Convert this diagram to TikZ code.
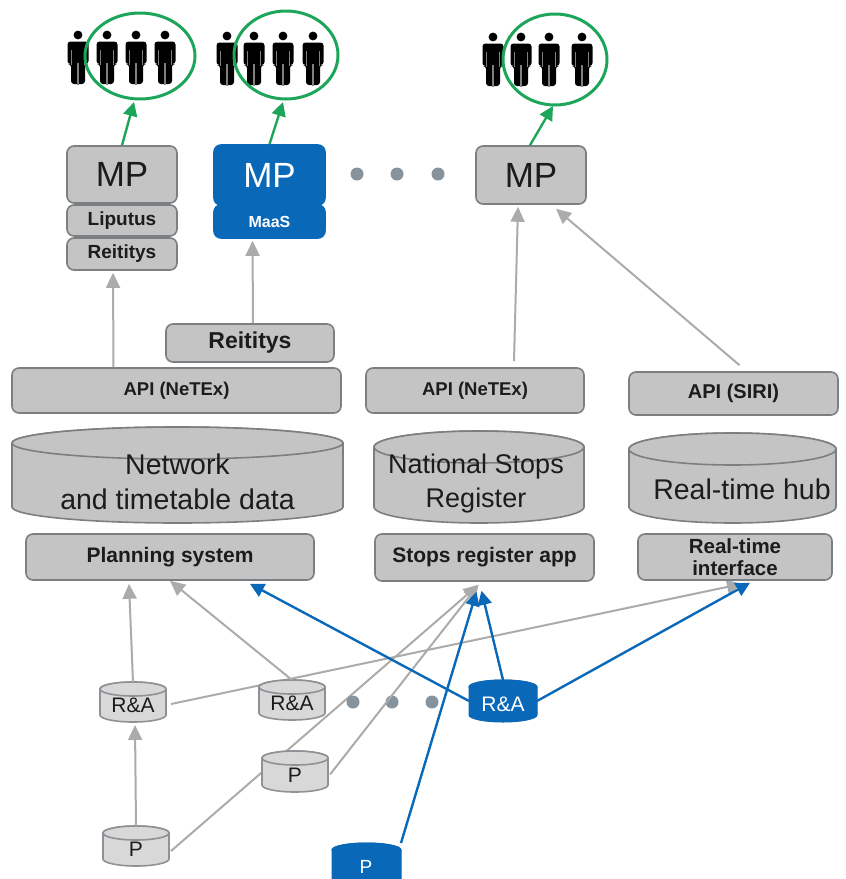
\documentclass[tikz,border=0pt]{standalone}
\usepackage{fontspec}
\setmainfont{Liberation Sans}
\usetikzlibrary{arrows.meta,backgrounds,calc}
\definecolor{boxfill}{HTML}{C4C4C4}
\definecolor{boxline}{HTML}{7C7F82}
\definecolor{smallfill}{HTML}{D8D8D8}
\definecolor{smallline}{HTML}{8E9296}
\definecolor{conblue}{HTML}{0A68B8}
\definecolor{congray}{HTML}{ABABAB}
\definecolor{congreen}{HTML}{1DA65A}
\definecolor{dotgray}{HTML}{87939C}
\definecolor{ink}{HTML}{1C1C1C}
\newcommand{\fs}[1]{\fontsize{#1}{#1}\selectfont}
\tikzset{
  x=1pt,y=-1pt,
  box/.style={draw=boxline,fill=boxfill,line width=1.6pt,rounded corners=7pt,inner sep=0pt,text=ink,align=center,font=\bfseries\fs{19}},
  bluebox/.style={box,draw=conblue,fill=conblue,text=white},
  cylbig/.style={cyldraw/.style={draw=boxline,fill=boxfill,line width=1.6pt}},
  cylsmall/.style={cyldraw/.style={draw=smallline,fill=smallfill,line width=1.6pt}},
  cylblue/.style={cyldraw/.style={draw=conblue,fill=conblue,line width=1pt}},
  cyldraw/.style={},
  anchorbox/.style={inner sep=0pt,outer sep=0pt},
  bigtext/.style={text=ink,align=center,inner sep=0pt,font=\fs{28.5}},
  smalltext/.style={text=ink,inner sep=0pt,font=\fs{21}},
  whitetext/.style={text=white,inner sep=0pt,font=\fs{21}},
  graycon/.style={draw=congray,line width=2pt,-{Triangle[length=15pt,width=14pt]}},
  bluecon/.style={draw=conblue,line width=2.4pt,-{Triangle[length=14pt,width=14pt]}},
  greencon/.style={draw=congreen,line width=2.4pt,-{Triangle[length=14pt,width=14pt]}},
  ringline/.style={draw=congreen,line width=3pt},
  dotmark/.style={circle,fill=dotgray,inner sep=0pt,minimum size=13pt},
}
% style, name, cx, top, bottom, width, ry
\newcommand{\dbcyl}[7]{%
  \pgfmathsetmacro{\cL}{#3-#6/2}\pgfmathsetmacro{\cR}{#3+#6/2}%
  \pgfmathsetmacro{\cT}{#4+#7}\pgfmathsetmacro{\cB}{#5-#7}\pgfmathsetmacro{\rxx}{#6/2}%
  \pgfmathsetmacro{\cH}{#5-#4}\pgfmathsetmacro{\cM}{(#4+#5)/2}%
  \begin{scope}[#1]
  \path[cyldraw] (\cL,\cT) -- (\cL,\cB) arc[start angle=180,end angle=360,x radius=\rxx pt,y radius=#7pt] -- (\cR,\cT) arc[start angle=0,end angle=180,x radius=\rxx pt,y radius=#7pt] -- cycle;
  \path[cyldraw] (#3,\cT) ellipse[x radius=\rxx pt,y radius=#7pt];
  \end{scope}
  \node[anchorbox,minimum width=#6pt,minimum height=\cH pt] (#2) at (#3,\cM) {};}
\newcommand{\person}[2]{%
  \begin{scope}[shift={(#1,#2)}]
  \fill[black] (0,35) circle[radius=4.4pt];
  \fill[black,rounded corners=3pt] (-10.5,64) -- (-10.5,41.5) -- (10.5,41.5) -- (10.5,64) -- (7,64) -- (7,84) -- (-7,84) -- (-7,64) -- cycle;
  \draw[gray,line width=1.1pt] (-6.6,50) -- (-6.6,65) (6.6,50) -- (6.6,65) (0,63) -- (0,84.5);
  \end{scope}}
\begin{document}
\begin{tikzpicture}
\useasboundingbox (0,0) rectangle (846,879);
\clip (0,0) rectangle (846,879);
% people
\foreach \px in {78,107,136,165}{\person{\px}{0}}
\foreach \px in {227,254,283,313}{\person{\px}{1}}
\foreach \px in {493,521,549,582}{\person{\px}{2}}
\draw[ringline] (140,56) ellipse[x radius=55pt,y radius=43pt];
\coordinate (e1) at (140,99);
\draw[ringline] (286,55) ellipse[x radius=52pt,y radius=44pt];
\coordinate (e2) at (286,99);
\draw[ringline] (555,59.5) ellipse[x radius=52pt,y radius=45.5pt];
\coordinate (e3) at (555,105);
% MP stacks
\node[box,font=\fs{35},minimum width=110pt,minimum height=57pt] (mp1) at (122,174.5) {MP};
\node[box,minimum width=110pt,minimum height=31pt] (lip) at (122,220.5) {Liputus};
\node[box,minimum width=110pt,minimum height=32pt] (rei1) at (122,254) {Reititys};
\node[bluebox,font=\fs{35},minimum width=111pt,minimum height=60pt] (mp2) at (269.5,175) {MP};
\node[bluebox,font=\bfseries\fs{16},minimum width=111pt,minimum height=33pt] (maas) at (269.5,221.5) {MaaS};
\node[box,font=\fs{35},minimum width=110pt,minimum height=58pt] (mp3) at (531,175) {MP};
\node[dotmark] (d1) at (357,174) {};
\node[dotmark] (d2) at (397,174) {};
\node[dotmark] (d3) at (438,174) {};
% APIs
\node[box,font=\bfseries\fs{23},minimum width=168pt,minimum height=38pt] (rei2) at (250,343) {Reititys};
\node[box,font=\bfseries\fs{18.5},minimum width=329pt,minimum height=45pt] (api1) at (176.5,390.5) {API (NeTEx)};
\node[box,font=\bfseries\fs{18.5},minimum width=218pt,minimum height=45pt] (api2) at (475,390.5) {API (NeTEx)};
\node[box,font=\bfseries\fs{20},minimum width=209pt,minimum height=43pt] (api3) at (733.5,393.5) {API (SIRI)};
% data stores
\dbcyl{cylbig}{netdb}{177.5}{427}{523}{331}{16}
\node[bigtext] (nettext) at (177.5,482) {Network\\[6pt]and timetable data};
\dbcyl{cylbig}{stopdb}{479}{431}{523}{210}{16}
\node[bigtext,font=\fs{27}] (stoptext) at (476,484) {National Stops\\[7pt]Register};
\dbcyl{cylbig}{rtdb}{732.5}{433}{523}{207}{16}
\node[bigtext] (rttext) at (742,489) {Real-time hub};
% apps
\node[box,font=\bfseries\fs{21},minimum width=288pt,minimum height=46pt] (plan) at (170,557) {Planning system};
\node[box,font=\bfseries\fs{21},minimum width=219pt,minimum height=47pt] (stopapp) at (484.5,557.5) {Stops register app};
\node[box,font=\bfseries\fs{20.5},minimum width=194pt,minimum height=46pt] (rtapp) at (735,557) {Real-time\\[1pt]interface};
% small stores
\dbcyl{cylsmall}{ra1}{133}{682}{722}{66}{7}
\node[smalltext] (ra1t) at (133,705) {R\&A};
\dbcyl{cylsmall}{ra2}{292}{680}{720}{66}{7}
\node[smalltext] (ra2t) at (292,703) {R\&A};
\dbcyl{cylblue}{ra3}{503}{680}{722}{68}{7}
\node[whitetext] (ra3t) at (503,704) {R\&A};
\dbcyl{cylsmall}{p1}{295}{751}{792}{66}{7}
\node[smalltext] (p1t) at (295,775) {P};
\dbcyl{cylsmall}{p2}{136}{826}{866}{66}{7}
\node[smalltext] (p2t) at (136,849) {P};
\dbcyl{cylblue}{p3}{366.5}{843}{895}{69}{7}
\node[whitetext,font=\fs{19}] (p3t) at (366,867) {P};
\node[dotmark] (d4) at (353,702) {};
\node[dotmark] (d5) at (392,702) {};
\node[dotmark] (d6) at (432,702) {};
% connectors behind the small stores
\begin{scope}[on background layer]
\draw[graycon] ([xshift=5pt,yshift=-2pt]ra1.east) -- ([xshift=7pt,yshift=-3pt]rtapp.south);
\draw[graycon] ([xshift=2pt,yshift=-5pt]p2.east) -- ([xshift=-6pt,yshift=-3pt]stopapp.south);
\end{scope}
% upper connectors
\draw[greencon] (mp1.north) -- ([xshift=-6pt,yshift=-3pt]e1);
\draw[greencon] (mp2.north) -- ([xshift=-3pt,yshift=-3pt]e2);
\draw[greencon] ([xshift=-1pt]mp3.north) -- ([xshift=-2pt,yshift=-1pt]e3);
\draw[graycon] ([xshift=-63pt]api1.north) -- ([xshift=-9pt,yshift=-2pt]rei1.south);
\draw[graycon] ([xshift=3pt]rei2.north) -- ([xshift=-17pt,yshift=-2pt]maas.south);
\draw[graycon] ([xshift=39pt,yshift=6pt]api2.north) -- ([xshift=-13pt,yshift=-2pt]mp3.south);
\draw[graycon] ([xshift=6pt,yshift=6pt]api3.north) -- ([xshift=25pt,yshift=-4pt]mp3.south);
% lower connectors
\draw[graycon] (ra1.north) -- ([xshift=-41pt,yshift=-3pt]plan.south);
\draw[graycon] (ra2.north) -- (plan.south);
\draw[graycon] (p2.north) -- ([yshift=-3pt,xshift=2pt]ra1.south);
\draw[graycon] ([xshift=2pt,yshift=-3pt]p1.east) -- ([xshift=-6pt,yshift=-3pt]stopapp.south);
\draw[bluecon] (ra3.west) -- ([xshift=80pt,yshift=-3pt]plan.south);
\draw[bluecon] (ra3.north) -- ([xshift=-3pt,yshift=-9pt]stopapp.south);
\draw[bluecon] (ra3.east) -- ([xshift=15pt,yshift=-2pt]rtapp.south);
\draw[bluecon] (p3.north east) -- ([xshift=-8pt,yshift=-10pt]stopapp.south);
\end{tikzpicture}
\end{document}
